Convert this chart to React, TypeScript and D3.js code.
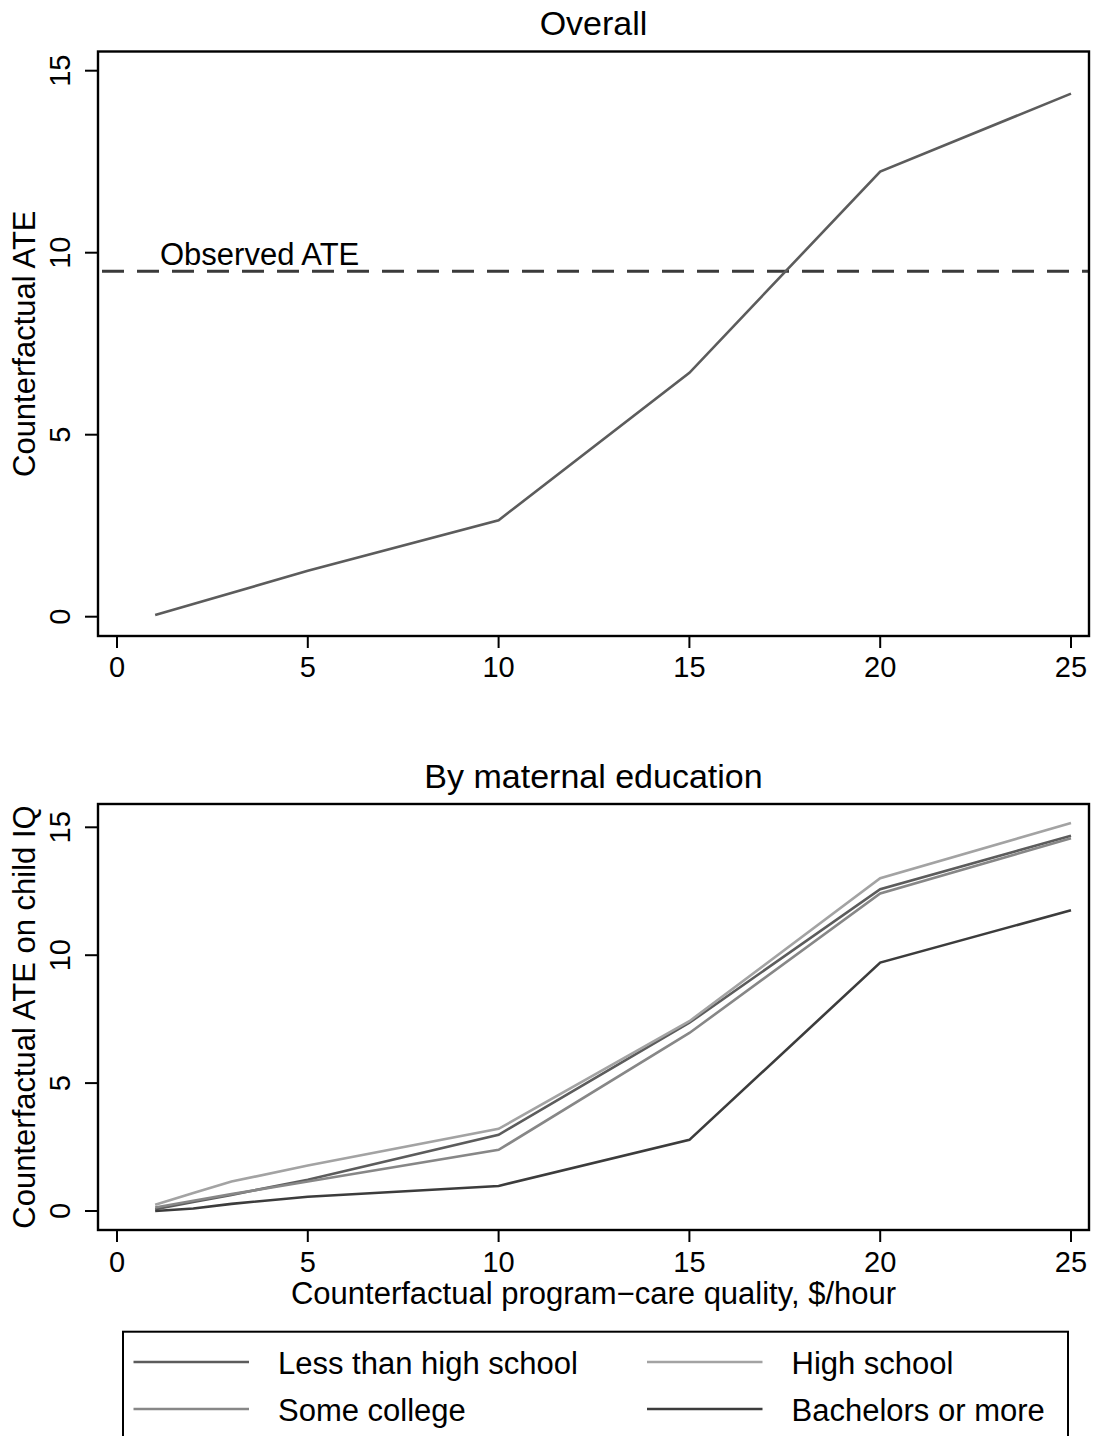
import React from "react";
import * as d3 from "d3";

const xTicks = [0, 5, 10, 15, 20, 25];
const yTicks = [0, 5, 10, 15];

const overallX = [1, 5, 10, 15, 20, 25];
const overallATE = [0.05, 1.26, 2.65, 6.7, 12.23, 14.37];
const observedATE = 9.49;

const eduX = [1, 2, 3, 5, 10, 15, 20, 25];
const lessThanHS = [0.07, 0.35, 0.63, 1.22, 2.98, 7.36, 12.58, 14.67];
const highSchool = [0.24, 0.7, 1.15, 1.78, 3.21, 7.42, 13.01, 15.17];
const someCollege = [0.14, 0.4, 0.66, 1.15, 2.39, 6.96, 12.41, 14.57];
const bachelors = [0.0, 0.1, 0.28, 0.56, 0.98, 2.78, 9.71, 11.76];

const seriesNames = ["Less than high school", "High school", "Some college", "Bachelors or more"];
const seriesColors = ["#5c5c5c", "#a3a3a3", "#878787", "#3c3c3c"];
const seriesValues = [lessThanHS, highSchool, someCollege, bachelors];

const FONT = "'Liberation Sans', Arial, Helvetica, sans-serif";

export default function App() {
  const W = 1094;
  const H = 1436;
  const boxLeft = 98;
  const boxRight = 1089;
  const x = d3.scaleLinear().domain([0, 25]).range([117, 1071]);
  const yTop = d3.scaleLinear().domain([0, 15]).range([616.7, 70.7]);
  const yBot = d3.scaleLinear().domain([0, 15]).range([1211, 827.3]);

  const panels = [
    { title: "Overall", titleY: 35, boxTop: 51.5, boxBottom: 636, y: yTop, ylabel: "Counterfactual ATE", tickLabelY: 677 },
    { title: "By maternal education", titleY: 788, boxTop: 804, boxBottom: 1230, y: yBot, ylabel: "Counterfactual ATE on child IQ", tickLabelY: 1272 },
  ];

  const lineTop = d3
    .line<number>()
    .x((_, i) => x(overallX[i]))
    .y((d) => yTop(d));
  const lineBot = d3
    .line<number>()
    .x((_, i) => x(eduX[i]))
    .y((d) => yBot(d));

  const legendRows = [
    [0, 1],
    [2, 3],
  ];
  const legendRowY = [1362, 1409];
  const legendColX = [133.5, 647];

  return (
    <svg
      width={W}
      height={H}
      style={{ position: "absolute", left: 0, top: 0, background: "#fff" }}
      fontFamily={FONT}
    >
      <rect x={0} y={0} width={W} height={H} fill="#fff" />
      {panels.map((p, pi) => (
        <g key={pi}>
          <text x={(boxLeft + boxRight) / 2} y={p.titleY} textAnchor="middle" fontSize={34} fill="#000">
            {p.title}
          </text>
          {yTicks.map((t) => (
            <g key={t}>
              <line x1={85} x2={boxLeft} y1={p.y(t)} y2={p.y(t)} stroke="#000" strokeWidth={2} />
              <text
                transform={`translate(70,${p.y(t)}) rotate(-90)`}
                textAnchor="middle"
                fontSize={29}
                fill="#000"
              >
                {t}
              </text>
            </g>
          ))}
          {xTicks.map((t) => (
            <g key={t}>
              <line x1={x(t)} x2={x(t)} y1={p.boxBottom} y2={p.boxBottom + 12} stroke="#000" strokeWidth={2} />
              <text x={x(t)} y={p.tickLabelY} textAnchor="middle" fontSize={29} fill="#000">
                {t}
              </text>
            </g>
          ))}
          <text
            transform={`translate(35,${(p.boxTop + p.boxBottom) / 2}) rotate(-90)`}
            textAnchor="middle"
            fontSize={31}
            fill="#000"
          >
            {p.ylabel}
          </text>
        </g>
      ))}

      {/* top panel content */}
      <line
        x1={boxLeft}
        x2={boxRight}
        y1={yTop(observedATE)}
        y2={yTop(observedATE)}
        stroke="#3a3a3a"
        strokeWidth={3}
        strokeDasharray="22 13"
        strokeDashoffset={-4}
      />
      <text x={160} y={265} fontSize={31} fill="#000">
        Observed ATE
      </text>
      <path d={lineTop(overallATE) || ""} fill="none" stroke="#5c5c5c" strokeWidth={2.6} />

      {/* bottom panel content */}
      {seriesValues.map((vals, i) => (
        <path key={i} d={lineBot(vals) || ""} fill="none" stroke={seriesColors[i]} strokeWidth={2.6} />
      ))}

      {/* boxes */}
      {panels.map((p, pi) => (
        <rect
          key={pi}
          x={boxLeft}
          y={p.boxTop}
          width={boxRight - boxLeft}
          height={p.boxBottom - p.boxTop}
          fill="none"
          stroke="#000"
          strokeWidth={2.4}
        />
      ))}

      <text x={(boxLeft + boxRight) / 2} y={1304} textAnchor="middle" fontSize={31} fill="#000">
        Counterfactual program−care quality, $/hour
      </text>

      {/* legend */}
      <rect x={123} y={1331.7} width={945} height={120} fill="#fff" stroke="#000" strokeWidth={2} />
      {legendRows.map((row, ri) =>
        row.map((si, ci) => (
          <g key={`${ri}-${ci}`}>
            <line
              x1={legendColX[ci]}
              x2={legendColX[ci] + 115.5}
              y1={legendRowY[ri]}
              y2={legendRowY[ri]}
              stroke={seriesColors[si]}
              strokeWidth={2.6}
            />
            <text x={legendColX[ci] + 144.5} y={legendRowY[ri] + 12} fontSize={31} fill="#000">
              {seriesNames[si]}
            </text>
          </g>
        ))
      )}
    </svg>
  );
}
